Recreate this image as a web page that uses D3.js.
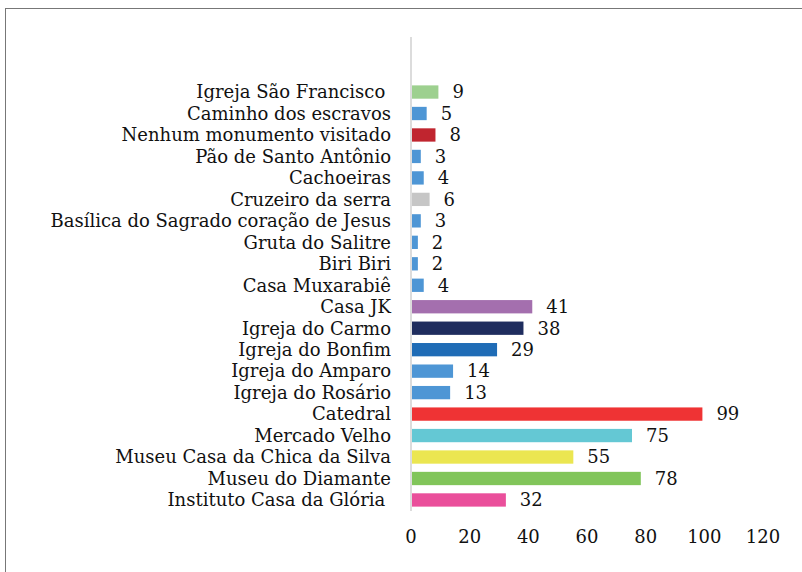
<!DOCTYPE html>
<html>
<head>
<meta charset="utf-8">
<script src="https://cdn.jsdelivr.net/npm/d3@7"></script>
<style>
  body { margin: 0; background: #fff; }
  svg text { font-family: "DejaVu Serif", serif; fill: #111; }
</style>
</head>
<body>
<div id="chart"></div>
<script>
const categories = [
  'Igreja São Francisco ', 'Caminho dos escravos', 'Nenhum monumento visitado',
  'Pão de Santo Antônio', 'Cachoeiras', 'Cruzeiro da serra',
  'Basílica do Sagrado coração de Jesus', 'Gruta do Salitre', 'Biri Biri',
  'Casa Muxarabiê', 'Casa JK', 'Igreja do Carmo', 'Igreja do Bonfim',
  'Igreja do Amparo', 'Igreja do Rosário', 'Catedral', 'Mercado Velho',
  'Museu Casa da Chica da Silva', 'Museu do Diamante', 'Instituto Casa da Glória '
]
const values = [9, 5, 8, 3, 4, 6, 3, 2, 2, 4, 41, 38, 29, 14, 13, 99, 75, 55, 78, 32]
const colors = [
  '#9dd08f', '#4e96d5', '#c0252f', '#4e96d5', '#4e96d5', '#c6c6c6',
  '#4e96d5', '#4e96d5', '#4e96d5', '#4e96d5', '#a46fae', '#1f2d5e',
  '#1f6cb6', '#4e96d5', '#4e96d5', '#ef3334', '#64c8d4', '#ebe651',
  '#81c55a', '#ea4f9b'
]
const ticks = [0, 20, 40, 60, 80, 100, 120]

const W = 802, H = 572
const svg = d3.select('#chart').append('svg').attr('width', W).attr('height', H)

// outer frame, runs off the right and bottom edges
svg.append('rect')
  .attr('x', 5.5).attr('y', 8.5).attr('width', W + 10).attr('height', H + 10)
  .attr('fill', 'none').attr('stroke', '#777').attr('stroke-width', 1)

const x = d3.scaleLinear().domain([0, 120]).range([411, 763])
const y = d3.scaleBand().domain(categories).range([81.3, 510.7]).paddingInner(0.38).paddingOuter(0.19)

// vertical axis line
svg.append('line')
  .attr('x1', x(0)).attr('x2', x(0)).attr('y1', 37).attr('y2', 511)
  .attr('stroke', '#d0d0d0').attr('stroke-width', 1.5)

svg.selectAll('rect.bar')
  .data(categories)
  .enter()
  .append('rect')
  .attr('class', 'bar')
  .attr('x', x(0) + 1)
  .attr('y', d => y(d))
  .attr('width', (d, i) => x(values[i]) - x(0))
  .attr('height', y.bandwidth())
  .attr('fill', (d, i) => colors[i])

const fs = 18

svg.selectAll('text.cat')
  .data(categories)
  .enter()
  .append('text')
  .attr('class', 'cat')
  .attr('x', 391)
  .attr('y', d => y(d) + y.bandwidth() / 2)
  .attr('dy', '0.35em')
  .attr('text-anchor', 'end')
  .attr('font-size', fs)
  .style('white-space', 'pre')
  .text(d => d)

svg.selectAll('text.val')
  .data(values)
  .enter()
  .append('text')
  .attr('class', 'val')
  .attr('x', d => x(d) + 15)
  .attr('y', (d, i) => y(categories[i]) + y.bandwidth() / 2)
  .attr('dy', '0.35em')
  .attr('font-size', fs)
  .text(d => d)

svg.selectAll('text.tick')
  .data(ticks)
  .enter()
  .append('text')
  .attr('class', 'tick')
  .attr('x', d => x(d))
  .attr('y', 537)
  .attr('dy', '0.35em')
  .attr('text-anchor', 'middle')
  .attr('font-size', fs)
  .text(d => d)
</script>
</body>
</html>
